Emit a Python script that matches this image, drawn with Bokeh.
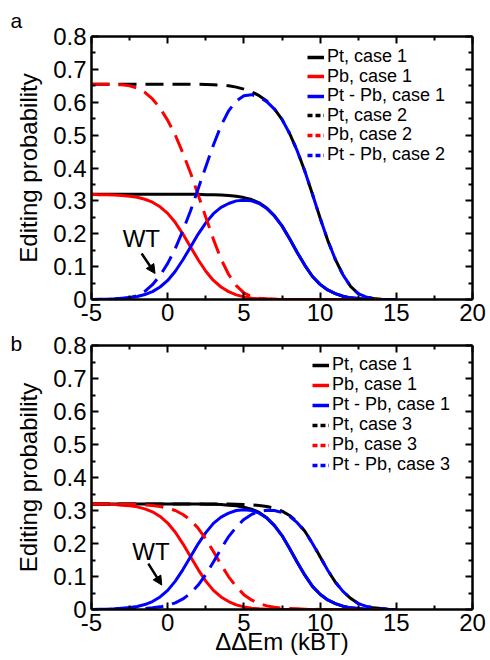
from bokeh.plotting import figure
from bokeh.models import (Range1d, LinearAxis, FixedTicker, Legend, LegendItem, Label,
                          Arrow, NormalHead, CustomJSTickFormatter, Title)
from bokeh.layouts import column
from bokeh.embed import file_html
from bokeh.resources import INLINE

# ---------------- data ----------------
dEm = [-5.0, -4.5, -4.0, -3.5, -3.0, -2.5, -2.0, -1.5, -1.0, -0.5,
       0.0, 0.5, 1.0, 1.5, 2.0, 2.5, 3.0, 3.5, 4.0, 4.5,
       5.0, 5.5, 6.0, 6.5, 7.0, 7.5, 8.0, 8.5, 9.0, 9.5,
       10.0, 10.5, 11.0, 11.5, 12.0, 12.5, 13.0, 13.5, 14.0, 14.5, 15.0]

pt_case1 = [0.320, 0.320, 0.320, 0.320, 0.320, 0.320, 0.320, 0.320, 0.320, 0.320,
            0.320, 0.320, 0.320, 0.320, 0.320, 0.319, 0.319, 0.318, 0.316, 0.314,
            0.310, 0.304, 0.294, 0.278, 0.255, 0.224, 0.185, 0.143, 0.104, 0.070,
            0.046, 0.029, 0.018, 0.010, 0.005, 0.003, 0.001, 0.000, 0.000, 0.000, 0.000]
pb_case1 = [0.320, 0.319, 0.319, 0.318, 0.316, 0.314, 0.311, 0.305, 0.296, 0.282,
            0.262, 0.234, 0.199, 0.160, 0.121, 0.086, 0.058, 0.038, 0.024, 0.014,
            0.008, 0.004, 0.002, 0.001, 0.001, 0.000, 0.000, 0.000, 0.000, 0.000,
            0.000, 0.000, 0.000, 0.000, 0.000, 0.000, 0.000, 0.000, 0.000, 0.000, 0.000]

pt_case2 = [0.655, 0.655, 0.655, 0.655, 0.655, 0.655, 0.655, 0.655, 0.655, 0.655,
            0.655, 0.655, 0.655, 0.655, 0.655, 0.654, 0.653, 0.652, 0.650, 0.646,
            0.640, 0.632, 0.620, 0.604, 0.580, 0.548, 0.505, 0.452, 0.390, 0.320,
            0.248, 0.180, 0.122, 0.075, 0.040, 0.018, 0.008, 0.003, 0.001, 0.000, 0.000]
pb_case2 = [0.655, 0.655, 0.655, 0.654, 0.653, 0.650, 0.643, 0.630, 0.610, 0.582,
            0.545, 0.500, 0.445, 0.385, 0.318, 0.250, 0.183, 0.123, 0.076, 0.042,
            0.020, 0.009, 0.004, 0.002, 0.001, 0.000, 0.000, 0.000, 0.000, 0.000,
            0.000, 0.000, 0.000, 0.000, 0.000, 0.000, 0.000, 0.000, 0.000, 0.000, 0.000]

pt_case3 = [0.320, 0.320, 0.320, 0.320, 0.320, 0.320, 0.320, 0.320, 0.320, 0.320,
            0.320, 0.320, 0.320, 0.320, 0.320, 0.320, 0.320, 0.320, 0.320, 0.319,
            0.318, 0.317, 0.315, 0.312, 0.307, 0.298, 0.285, 0.265, 0.237, 0.201,
            0.160, 0.119, 0.083, 0.055, 0.034, 0.018, 0.010, 0.005, 0.003, 0.001, 0.000]
pb_case3 = [0.320, 0.320, 0.320, 0.320, 0.319, 0.319, 0.318, 0.317, 0.315, 0.312,
            0.307, 0.300, 0.288, 0.271, 0.246, 0.214, 0.176, 0.136, 0.099, 0.069,
            0.045, 0.029, 0.018, 0.011, 0.007, 0.004, 0.003, 0.002, 0.001, 0.001,
            0.000, 0.000, 0.000, 0.000, 0.000, 0.000, 0.000, 0.000, 0.000, 0.000, 0.000]

x_ticks = [-5, 0, 5, 10, 15, 20]
x_minor = [-2.5, 2.5, 7.5, 12.5, 17.5]
y_ticks = [0.0, 0.1, 0.2, 0.3, 0.4, 0.5, 0.6, 0.7, 0.8]
y_minor = [0.05, 0.15, 0.25, 0.35, 0.45, 0.55, 0.65, 0.75]

FONT = "Liberation Sans"
DASH = "18 9"
LEG_DASH = "5 3"
NAN = float("nan")


def diff(a, b):
    return [u - v for u, v in zip(a, b)]


def style_axis(ax, show_labels):
    ax.axis_line_width = 2.5
    ax.axis_line_color = "black"
    ax.major_tick_in = 7
    ax.major_tick_out = 0
    ax.minor_tick_in = 4
    ax.minor_tick_out = 0
    ax.major_tick_line_width = 2
    ax.minor_tick_line_width = 2
    ax.major_label_text_font = FONT
    ax.major_label_text_font_size = "24px"
    ax.major_label_text_color = "black"
    if not show_labels:
        ax.formatter = CustomJSTickFormatter(code="return ''")
        ax.major_label_text_color = None
        ax.major_label_text_font_size = "0px"
        ax.major_label_standoff = 0


def make_panel(height, top_border, bottom_border, alt_label, pt2, pb2,
               letter, letter_standoff, wt_xy, arrow_xy, leg_x, leg_top, leg_pitch,
               xlabel=None):
    p = figure(width=490, height=height, output_backend="svg", toolbar_location=None,
               x_range=Range1d(-5, 20), y_range=Range1d(0, 0.8),
               min_border_left=91, min_border_right=18,
               min_border_top=top_border, min_border_bottom=bottom_border,
               x_axis_location=None, y_axis_location=None, title=None)
    p.outline_line_color = None
    p.xgrid.visible = False
    p.ygrid.visible = False
    p.background_fill_color = "white"
    p.border_fill_color = "white"

    xt = FixedTicker(ticks=x_ticks, minor_ticks=x_minor)
    yt = FixedTicker(ticks=y_ticks, minor_ticks=y_minor)

    xb = LinearAxis(ticker=xt, formatter=CustomJSTickFormatter(code="return tick.toFixed(0)"))
    style_axis(xb, True)
    xb.major_label_standoff = 4
    if xlabel:
        xb.axis_label = xlabel
        xb.axis_label_text_font = FONT
        xb.axis_label_text_font_size = "24px"
        xb.axis_label_text_font_style = "normal"
        xb.axis_label_text_color = "black"
        xb.axis_label_standoff = -6
    xa = LinearAxis(ticker=xt)
    style_axis(xa, False)
    yl = LinearAxis(ticker=yt, formatter=CustomJSTickFormatter(
        code="return tick == 0 ? '0' : tick.toFixed(1)"))
    style_axis(yl, True)
    yl.axis_label = "Editing probability"
    yl.axis_label_text_font = FONT
    yl.axis_label_text_font_size = "24px"
    yl.axis_label_text_font_style = "normal"
    yl.axis_label_text_color = "black"
    yl.axis_label_standoff = 8
    yr = LinearAxis(ticker=yt)
    style_axis(yr, False)
    p.add_layout(xb, "below")
    p.add_layout(xa, "above")
    p.add_layout(yl, "left")
    p.add_layout(yr, "right")

    # panel letter, outermost above the top axis
    p.add_layout(Title(text=letter, align="left", offset=-81, standoff=letter_standoff,
                       vertical_align="middle",
                       text_font=FONT, text_font_size="21px", text_font_style="normal",
                       text_color="black"), "above")

    d1 = diff(pt_case1, pb_case1)
    d2 = diff(pt2, pb2)
    p.line(dEm, pt_case1, line_color="black", line_width=3)
    p.line(dEm, pb_case1, line_color="red", line_width=3)
    p.line(dEm, d1, line_color="blue", line_width=3)
    p.line(dEm, pt2, line_color="black", line_width=3, line_dash=DASH)
    p.line(dEm, pb2, line_color="red", line_width=3, line_dash=DASH)
    p.line(dEm, d2, line_color="blue", line_width=3, line_dash=DASH)

    # legend entries (short dashes as in the original legend), one row each
    specs = [("Pt, case 1", "black", "solid"),
             ("Pb, case 1", "red", "solid"),
             ("Pt - Pb, case 1", "blue", "solid"),
             ("Pt, case %s" % alt_label, "black", LEG_DASH),
             ("Pb, case %s" % alt_label, "red", LEG_DASH),
             ("Pt - Pb, case %s" % alt_label, "blue", LEG_DASH)]
    for i, (lab, col, dash) in enumerate(specs):
        r = p.line([NAN], [NAN], line_color=col, line_width=3.5, line_dash=dash)
        vy = leg_top - i * leg_pitch
        leg = Legend(items=[LegendItem(label=lab, renderers=[r])], location=(leg_x, vy),
                     orientation="vertical",
                     label_text_font=FONT, label_text_font_size="18px",
                     label_text_color="black", label_text_line_height=1.0,
                     glyph_width=17, glyph_height=18, label_height=18,
                     label_standoff=3, spacing=0, padding=0, margin=0,
                     border_line_color=None, background_fill_alpha=0)
        p.add_layout(leg, "center")

    p.add_layout(Label(x=wt_xy[0], y=wt_xy[1], text="WT", text_align="center",
                       text_baseline="middle", text_font=FONT, text_font_size="24px",
                       text_color="black"))
    p.add_layout(Arrow(end=NormalHead(size=9, fill_color="black", line_color="black"),
                       x_start=arrow_xy[0], y_start=arrow_xy[1],
                       x_end=arrow_xy[2], y_end=arrow_xy[3],
                       line_color="black", line_width=2.5))
    return p


pa = make_panel(330, 36, 31, "2", pt_case2, pb_case2, "a", 7,
                (-1.73, 0.186), (-1.71, 0.14, -0.83, 0.079), 216, 232, 19.6)
pb = make_panel(330, 15, 51, "3", pt_case3, pb_case3, "b", -20,
                (-1.1, 0.177), (-1.27, 0.139, -0.39, 0.074), 221, 234, 20,
                xlabel="ΔΔEm (kBT)")

layout = column(pa, pb, spacing=0)
open("out.html", "w").write(file_html(layout, INLINE))
